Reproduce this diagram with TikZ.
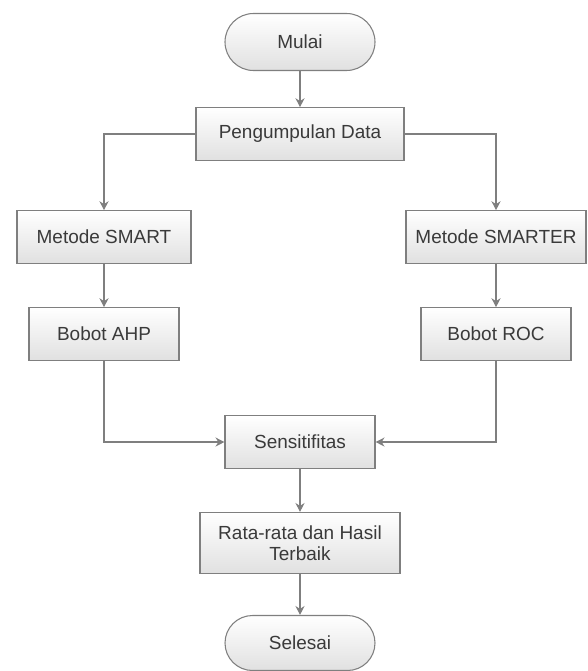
\documentclass[tikz,border=0pt]{standalone}
\usepackage{fontspec}
\setmainfont{Liberation Sans}
\usepackage{xcolor}
\usepackage{tikz}
\usetikzlibrary{arrows.meta, positioning}

\definecolor{boxline}{HTML}{7F7F7F}
\definecolor{boxtext}{HTML}{3A3A3A}

\begin{document}
\begin{tikzpicture}[>={Stealth[length=1.8mm,width=1.8mm]},
  font=\fontsize{10.8}{13}\selectfont, line width=0.6pt,
  proses/.style={draw=boxline, top color=white, bottom color=black!12,
    text=boxtext, minimum height=1.05cm, align=center},
  terminal/.style={proses, rounded corners=0.57cm, minimum width=3cm, minimum height=1.14cm},
  alur/.style={->, draw=boxline}]
  \useasboundingbox (0,0) rectangle (11.74,-13.42);
  \node[terminal] (mulai) at (6.0,-0.84) {Mulai};
  \node[proses, minimum width=4.16cm] (data) at (6.0,-2.68) {Pengumpulan Data};
  \node[proses, minimum width=3.48cm] (smart) at (2.08,-4.74) {Metode SMART};
  \node[proses, minimum width=3cm] (ahp) at (2.08,-6.68) {Bobot AHP};
  \node[proses, minimum width=3.6cm] (smarter) at (9.92,-4.74) {Metode SMARTER};
  \node[proses, minimum width=3cm] (roc) at (9.92,-6.68) {Bobot ROC};
  \node[proses, minimum width=3cm] (sens) at (6.0,-8.84) {Sensitifitas};
  \node[proses, minimum width=4cm, minimum height=1.22cm] (rata) at (6.0,-10.86)
    {Rata-rata dan Hasil\\[-1pt]Terbaik};
  \node[terminal, minimum height=1.1cm, rounded corners=0.55cm] (selesai) at (6.0,-12.86) {Selesai};
  \draw[alur] (mulai) -- (data);
  \draw[alur] (data.west) -| (smart.north);
  \draw[alur] (data.east) -| (smarter.north);
  \draw[alur] (smart) -- (ahp);
  \draw[alur] (smarter) -- (roc);
  \draw[alur] (ahp.south) |- (sens.west);
  \draw[alur] (roc.south) |- (sens.east);
  \draw[alur] (sens) -- (rata);
  \draw[alur] (rata) -- (selesai);
\end{tikzpicture}
\end{document}
